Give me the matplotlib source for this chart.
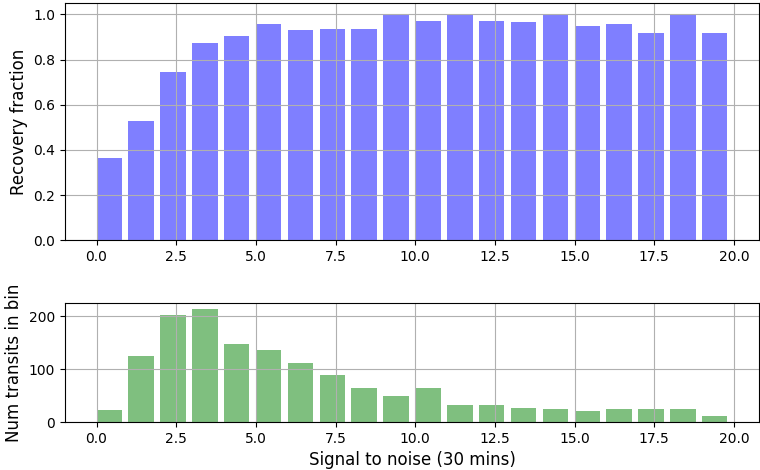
import matplotlib
matplotlib.use("Agg")
import matplotlib.pyplot as plt
import numpy as np

# bin edges (left) for signal to noise
snr_bins = np.linspace(0, 20, 21)[:-1]

# recovery fraction per bin
recovery = [0.364, 0.526, 0.744, 0.872, 0.903, 0.957, 0.930, 0.935, 0.935, 1.0,
            0.969, 1.0, 0.970, 0.966, 1.0, 0.95, 0.958, 0.917, 1.0, 0.917]

# number of transits per bin
counts = [22, 126, 203, 214, 147, 136, 111, 90, 64, 50,
          64, 33, 33, 27, 24, 20, 24, 24, 24, 12]

fig, (ax1, ax2) = plt.subplots(2, 1, figsize=(7.6, 4.7), dpi=100,
                               gridspec_kw={'height_ratios': [2, 1]})

ax1.bar(snr_bins, recovery, width=0.8, align='edge', color='b', alpha=0.5)
ax1.set_ylabel("Recovery fraction", fontsize=12)
ax1.grid(True)

ax2.bar(snr_bins, counts, width=0.8, align='edge', color='g', alpha=0.5)
ax2.set_ylabel("Num transits in bin", fontsize=12)
ax2.set_xlabel("Signal to noise (30 mins)", fontsize=12)
ax2.grid(True)

plt.subplots_adjust(left=0.0855, right=0.9987, top=0.9936, bottom=0.102,
                    hspace=0.354)
plt.savefig("out.png")
